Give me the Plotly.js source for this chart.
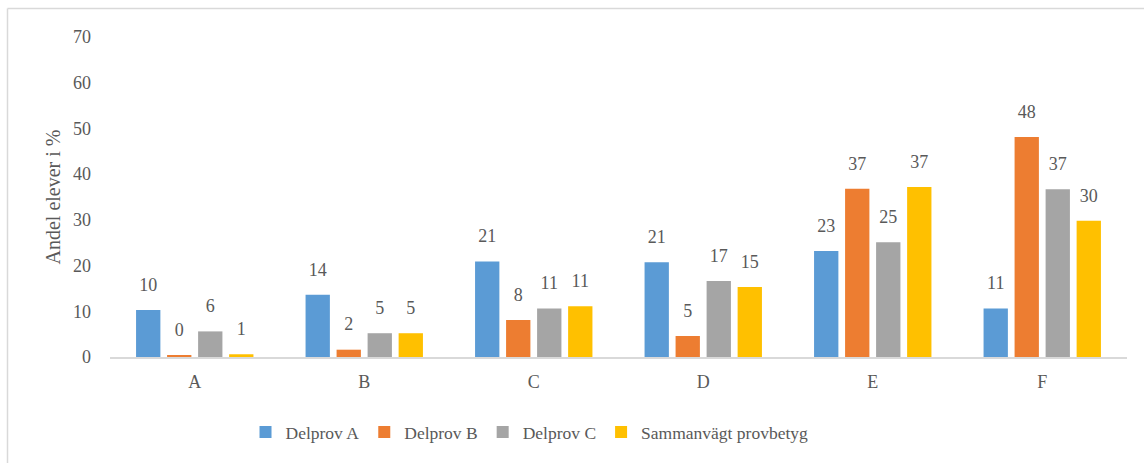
<!DOCTYPE html>
<html>
<head>
<meta charset="utf-8">
<script src="https://cdn.plot.ly/plotly-3.0.1.min.js"></script>
<style>
  html, body { margin: 0; padding: 0; background: #ffffff; }
  #chart { width: 1144px; height: 463px; }
  #chart text { font-family: 'Liberation Serif', 'DejaVu Serif', serif !important; }
</style>
</head>
<body>
<div id="chart"></div>
<script>
// Data
var categories = ['A', 'B', 'C', 'D', 'E', 'F'];
var seriesNames = ['Delprov A', 'Delprov B', 'Delprov C', 'Sammanvägt provbetyg'];
var delprovA = [10.3, 13.6, 20.9, 20.7, 23.2, 10.6];
var delprovB = [0.3, 1.6, 8.1, 4.6, 36.8, 48.1];
var delprovC = [5.6, 5.2, 10.6, 16.6, 25.1, 36.7];
var sammanvagt = [0.6, 5.2, 11.1, 15.3, 37.2, 29.8];
var yTicks = [0, 10, 20, 30, 40, 50, 60, 70];
var colors = ['#5B9BD5', '#ED7D31', '#A5A5A5', '#FFC000'];

var seriesValues = [delprovA, delprovB, delprovC, sammanvagt];
var fontFam = 'Liberation Serif';
var textColor = '#595959';

var traces = [];
seriesValues.forEach(function (vals, i) {
  traces.push({
    type: 'bar',
    name: seriesNames[i],
    x: categories,
    y: vals,
    offsetgroup: 'g' + i,
    marker: { color: colors[i] },
    hoverinfo: 'y'
  });
});
// data labels, aligned with the bars through scattermode group
seriesValues.forEach(function (vals, i) {
  traces.push({
    type: 'scatter',
    mode: 'markers+text',
    x: categories,
    y: vals,
    offsetgroup: 'g' + i,
    text: vals.map(function (v) { return Math.round(v).toString(); }),
    textposition: 'top center',
    textfont: { family: fontFam, size: 18, color: textColor },
    marker: { size: 22, color: 'rgba(0,0,0,0)' },
    showlegend: false,
    hoverinfo: 'skip',
    cliponaxis: false
  });
});

var layout = {
  width: 1144,
  height: 463,
  margin: { l: 110, r: 17, t: 37, b: 106 },
  paper_bgcolor: '#ffffff',
  plot_bgcolor: '#ffffff',
  barmode: 'group',
  bargap: 0.268,
  bargroupgap: 0.216,
  scattermode: 'group',
  scattergap: 0.268,
  hovermode: false,
  font: { family: fontFam, color: textColor, size: 18 },
  showlegend: true,
  legend: {
    orientation: 'h',
    x: 0.4125,
    xanchor: 'center',
    y: -0.235,
    yanchor: 'middle',
    font: { family: fontFam, size: 17.5, color: textColor },
    itemwidth: 30,
    traceorder: 'normal',
    bgcolor: 'rgba(0,0,0,0)'
  },
  xaxis: {
    type: 'category',
    showgrid: false,
    zeroline: false,
    showline: true,
    linecolor: '#D9D9D9',
    linewidth: 1.5,
    ticks: '',
    tickfont: { family: fontFam, size: 18, color: textColor },
    ticklabelstandoff: 8,
    fixedrange: true
  },
  yaxis: {
    range: [0, 70],
    tickvals: yTicks,
    ticktext: yTicks.map(String),
    showgrid: false,
    zeroline: false,
    showline: false,
    ticks: '',
    tickfont: { family: fontFam, size: 18, color: textColor },
    ticklabelstandoff: 18,
    title: { text: 'Andel elever i %', font: { family: fontFam, size: 20, color: textColor }, standoff: 7 },
    fixedrange: true
  },
  shapes: [
    { type: 'line', xref: 'paper', yref: 'paper',
      x0: (7.5 - 110) / 1017, x1: 1.02, y0: (357 - 8.5) / 320, y1: (357 - 8.5) / 320,
      line: { color: '#D9D9D9', width: 1.5 } },
    { type: 'line', xref: 'paper', yref: 'paper',
      x0: (7.5 - 110) / 1017, x1: (7.5 - 110) / 1017, y0: (357 - 8.5) / 320, y1: -0.35,
      line: { color: '#D9D9D9', width: 1.5 } }
  ]
};

Plotly.newPlot('chart', traces, layout, { displayModeBar: false });
</script>
</body>
</html>
